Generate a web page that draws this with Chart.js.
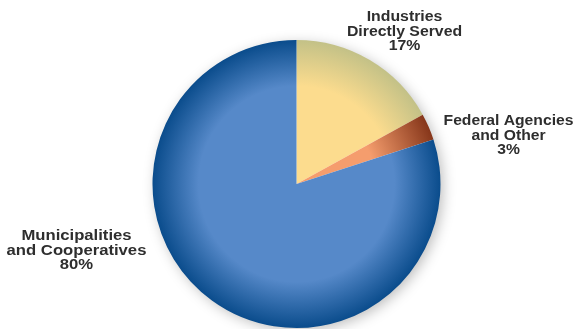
<!DOCTYPE html>
<html>
<head>
<meta charset="utf-8">
<script src="https://cdn.jsdelivr.net/npm/chart.js@4/dist/chart.umd.min.js"></script>
<style>
    html, body { margin: 0; padding: 0; background: #ffffff; }
    #wrap { width: 577px; height: 329px; position: relative; }
</style>
</head>
<body>
<div id="wrap"><canvas id="share-chart"></canvas></div>
<script>
// Category names (one entry per label line) and their shares in percent
const categories = [
    ['Industries', 'Directly Served'],
    ['Federal Agencies', 'and Other'],
    ['Municipalities', 'and Cooperatives']
];
const shares = [17, 3, 80];

// Slice colours: flat colour in the middle, darker rim at the edge
const innerColors = ['#fcdc8e', '#f59d6d', '#5689c9'];
const rimColors = ['#c3c187', '#86361a', '#0a4c8c'];

// Where each label block sits, as an offset from the pie centre,
// and how much its wide bold type is stretched sideways
const labelOffsets = [
    { dx: 108, dy: -163, stretch: 1.13 },
    { dx: 212, dy: -59, stretch: 1.12 },
    { dx: -220, dy: 56, stretch: 1.19 }
];

function pieGeometry(chart) {
    const a = chart.chartArea;
    return {
        cx: (a.left + a.right) / 2,
        cy: (a.top + a.bottom) / 2,
        r: Math.min(a.right - a.left, a.bottom - a.top) / 2
    };
}

// Radial gradient per slice
function sliceFill(context) {
    const chart = context.chart;
    if (!chart.chartArea) return innerColors[context.dataIndex];
    const g = pieGeometry(chart);
    const i = context.dataIndex;
    const grad = chart.ctx.createRadialGradient(g.cx, g.cy, 0, g.cx, g.cy, g.r);
    grad.addColorStop(0, innerColors[i]);
    grad.addColorStop(i === 1 ? 0.55 : 0.68, innerColors[i]);
    grad.addColorStop(1, rimColors[i]);
    return grad;
}

// Soft drop shadow behind the pie
const pieShadow = {
    id: 'pieShadow',
    beforeDatasetsDraw(chart) {
        const g = pieGeometry(chart);
        const ctx = chart.ctx;
        ctx.save();
        ctx.shadowColor = 'rgba(0, 0, 0, 0.28)';
        ctx.shadowBlur = 14;
        ctx.shadowOffsetX = 3;
        ctx.shadowOffsetY = 3;
        ctx.fillStyle = '#ffffff';
        ctx.beginPath();
        ctx.arc(g.cx, g.cy, g.r - 1, 0, Math.PI * 2);
        ctx.fill();
        ctx.restore();
    }
};

// Category name and percentage drawn outside each slice
const sliceLabels = {
    id: 'sliceLabels',
    afterDatasetsDraw(chart) {
        const g = pieGeometry(chart);
        const ctx = chart.ctx;
        const values = chart.data.datasets[0].data;
        ctx.save();
        ctx.fillStyle = '#2e2e2e';
        ctx.font = 'bold 14px "Liberation Sans", Arial, sans-serif';
        ctx.textAlign = 'center';
        ctx.textBaseline = 'alphabetic';
        categories.forEach((lines, i) => {
            const all = lines.concat([values[i] + '%']);
            const pos = labelOffsets[i];
            const x = g.cx + pos.dx;
            const y = g.cy + pos.dy;
            all.forEach((line, k) => {
                ctx.save();
                ctx.translate(x, y + k * 14.5);
                ctx.scale(pos.stretch, 1);
                ctx.fillText(line, 0, 0);
                ctx.restore();
            });
        });
        ctx.restore();
    }
};

const ctx = document.getElementById('share-chart').getContext('2d');
const chart = new Chart(ctx, {
    type: 'pie',
    data: {
        labels: categories.map(c => c.join(' ')),
        datasets: [{
            data: shares,
            backgroundColor: sliceFill,
            borderWidth: 0
        }]
    },
    options: {
        responsive: true,
        maintainAspectRatio: false,
        animation: false,
        layout: { padding: { top: 40, bottom: 1, left: 16, right: 0 } },
        plugins: {
            legend: { display: false },
            tooltip: { enabled: false }
        }
    },
    plugins: [pieShadow, sliceLabels]
});
</script>
</body>
</html>
